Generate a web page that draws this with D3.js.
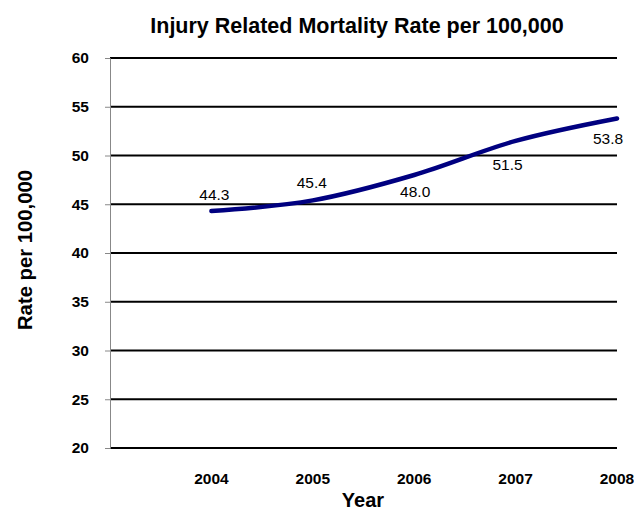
<!DOCTYPE html>
<html>
<head>
<meta charset="utf-8">
<script src="https://cdn.jsdelivr.net/npm/d3@7"></script>
<style>
  body { margin: 0; background: #fff; }
  text { font-family: "Liberation Sans", Arial, sans-serif; fill: #000; }
</style>
</head>
<body>
<div id="chart"></div>
<script>
// Chart data
let years = [2004, 2005, 2006, 2007, 2008];
let rates = [44.3, 45.4, 48.0, 51.5, 53.8];
let yTicks = [20, 25, 30, 35, 40, 45, 50, 55, 60];

// Value label nudges [dx, dy] relative to each point (style only)
let labelNudge = [[3, -11], [-1, -12], [1, 22], [-8, 29], [-9, 26]];

let svgWidth = 634, svgHeight = 510;
let margin = { top: 58, right: 17, bottom: 62, left: 110 };
let chartWidth = svgWidth - margin.left - margin.right;
let chartHeight = svgHeight - margin.top - margin.bottom;

let fontFam = '"Liberation Sans", Arial, sans-serif';

let svg = d3.select('#chart')
            .append('svg')
            .attr('width', svgWidth)
            .attr('height', svgHeight);

let chartGrp = svg.append('g')
            .attr('transform', `translate(${margin.left}, ${margin.top})`);

// Scales: one empty slot before the first year, like the original
let xScale = d3.scaleLinear()
                .domain([years[0] - 1, years[years.length - 1]])
                .range([0, chartWidth]);
let yScale = d3.scaleLinear()
                .domain([20, 60])
                .range([chartHeight, 0]);

// Horizontal gridlines
chartGrp.selectAll('.grid')
    .data(yTicks)
    .enter()
    .append('line')
    .attr('x1', 0)
    .attr('x2', chartWidth)
    .attr('y1', d => yScale(d))
    .attr('y2', d => yScale(d))
    .attr('stroke', '#000')
    .attr('stroke-width', 2);

// Y axis
let yAxis = d3.axisLeft(yScale).tickValues(yTicks).tickSize(5).tickPadding(16);
let yAx = chartGrp.append('g').call(yAxis);
yAx.select('.domain').attr('stroke', '#888').attr('stroke-width', 1);
yAx.selectAll('.tick line').attr('stroke', '#888');
yAx.selectAll('text')
    .attr('font-size', 15.5)
    .attr('font-weight', 'bold')
    .attr('font-family', fontFam)
    .attr('fill', '#000');

// X labels (no axis line)
chartGrp.selectAll('.xLabel')
    .data(years)
    .enter()
    .append('text')
    .attr('x', d => xScale(d))
    .attr('y', chartHeight + 36)
    .attr('text-anchor', 'middle')
    .attr('font-size', 15.5)
    .attr('font-weight', 'bold')
    .text(d => d);

// Line
let line = d3.line()
    .x((d, i) => xScale(years[i]))
    .y(d => yScale(d))
    .curve(d3.curveCatmullRom.alpha(0.5));

chartGrp.append('path')
    .datum(rates)
    .attr('d', line)
    .attr('fill', 'none')
    .attr('stroke', '#000080')
    .attr('stroke-width', 4.5)
    .attr('stroke-linecap', 'round');

// Value labels
chartGrp.selectAll('.valLabel')
    .data(rates)
    .enter()
    .append('text')
    .attr('x', (d, i) => xScale(years[i]) + labelNudge[i][0])
    .attr('y', (d, i) => yScale(d) + labelNudge[i][1])
    .attr('text-anchor', 'middle')
    .attr('font-size', 15.5)
    .text(d => d.toFixed(1));

// Titles
svg.append('text')
    .attr('x', 357)
    .attr('y', 33)
    .attr('text-anchor', 'middle')
    .attr('font-size', 21.5)
    .attr('font-weight', 'bold')
    .text('Injury Related Mortality Rate per 100,000');

svg.append('text')
    .attr('transform', 'rotate(-90)')
    .attr('x', -250)
    .attr('y', 32)
    .attr('text-anchor', 'middle')
    .attr('font-size', 20.3)
    .attr('font-weight', 'bold')
    .text('Rate per 100,000');

svg.append('text')
    .attr('x', 363)
    .attr('y', 507)
    .attr('text-anchor', 'middle')
    .attr('font-size', 20)
    .attr('font-weight', 'bold')
    .text('Year');
</script>
</body>
</html>
